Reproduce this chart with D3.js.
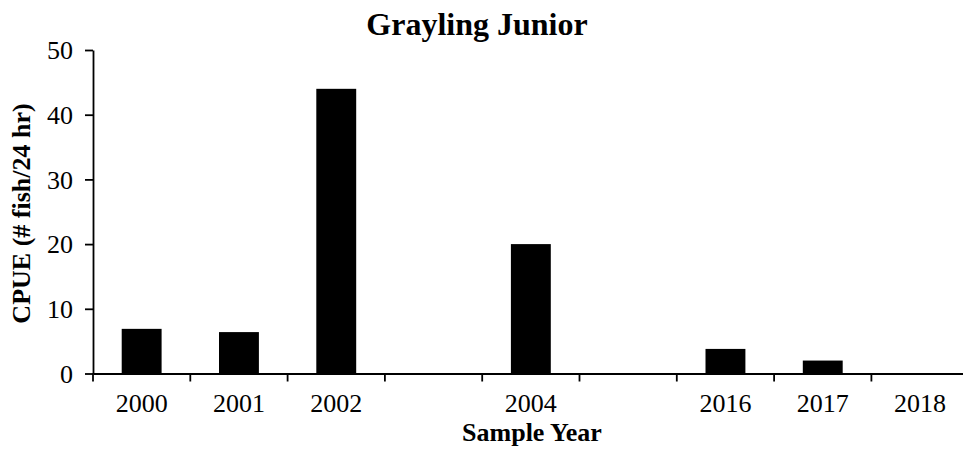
<!DOCTYPE html>
<html>
<head>
<meta charset="utf-8">
<script src="https://cdn.jsdelivr.net/npm/d3@7"></script>
<style>
  html, body { margin: 0; padding: 0; background: #fff; }
  svg { display: block; }
  text { font-family: "Liberation Serif", "Times New Roman", serif; fill: #000; }
</style>
</head>
<body>
<svg id="chart" width="963" height="453"></svg>
<script>
// Sample years (blank slots keep the gaps between survey periods)
const categories = ["2000", "2001", "2002", "gap1", "2004", "gap2", "2016", "2017", "2018"];
const tickLabels = ["2000", "2001", "2002", "", "2004", "", "2016", "2017", "2018"];
// CPUE (# fish / 24 hr) per sample year
const cpue = [6.9, 6.4, 44, null, 20, null, 3.8, 2.0, 0];
const yTicks = [0, 10, 20, 30, 40, 50];

const svg = d3.select("#chart");
const plotLeft = 93, plotRight = 968.7, plotTop = 50, plotBottom = 373.5;

const x = d3.scaleBand()
  .domain(categories)
  .range([plotLeft, plotRight])
  .paddingInner(0.59)
  .paddingOuter(0.295);

const y = d3.scaleLinear().domain([0, 50]).range([plotBottom, plotTop]);

// Bars
svg.append("g")
  .selectAll("rect")
  .data(categories.map((c, i) => ({ c, v: cpue[i] })).filter(d => d.v != null && d.v > 0))
  .join("rect")
  .attr("x", d => x(d.c))
  .attr("y", d => y(d.v))
  .attr("width", x.bandwidth())
  .attr("height", d => y(0) - y(d.v))
  .attr("fill", "#000");

// Y axis
const yAxis = svg.append("g")
  .attr("transform", `translate(${plotLeft},0)`)
  .call(d3.axisLeft(y).tickValues(yTicks).tickSize(8).tickPadding(12).tickSizeOuter(0));
yAxis.select(".domain").attr("stroke", "#000").attr("stroke-width", 1.8);
yAxis.selectAll(".tick line").attr("stroke", "#000").attr("stroke-width", 1.8);
yAxis.selectAll(".tick text")
  .attr("font-size", 26)
  .attr("dy", "0.34em");

// X axis: labels centred in each band, tick marks on band boundaries
const xAxis = svg.append("g")
  .attr("transform", `translate(0,${plotBottom})`)
  .call(d3.axisBottom(x).tickSize(0).tickPadding(20).tickSizeOuter(0)
    .tickFormat((d, i) => tickLabels[i]));
xAxis.select(".domain").attr("stroke", "#000").attr("stroke-width", 1.8);
xAxis.selectAll(".tick text")
  .attr("font-size", 26);

const step = x.step();
const boundaries = categories.map(c => x(c) - x.paddingInner() * step / 2);
xAxis.append("g")
  .selectAll("line")
  .data(boundaries)
  .join("line")
  .attr("x1", d => d).attr("x2", d => d)
  .attr("y1", 0).attr("y2", 8)
  .attr("stroke", "#000")
  .attr("stroke-width", 1.8);

// Titles
svg.append("text")
  .attr("x", 477).attr("y", 35)
  .attr("text-anchor", "middle")
  .attr("font-size", 32)
  .attr("font-weight", "bold")
  .text("Grayling Junior");

svg.append("text")
  .attr("x", 532).attr("y", 441)
  .attr("text-anchor", "middle")
  .attr("font-size", 26)
  .attr("font-weight", "bold")
  .text("Sample Year");

svg.append("text")
  .attr("transform", "translate(30,213.5) rotate(-90)")
  .attr("text-anchor", "middle")
  .attr("font-size", 26)
  .attr("font-weight", "bold")
  .text("CPUE (# fish/24 hr)");
</script>
</body>
</html>
